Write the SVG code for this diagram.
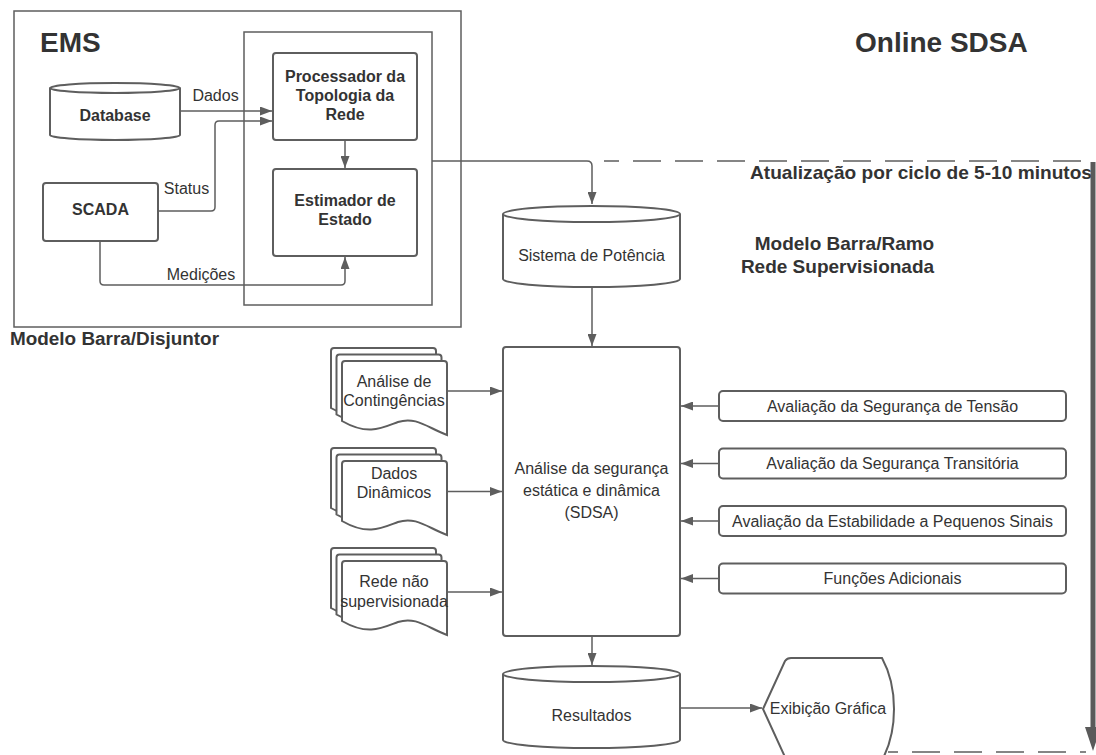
<svg xmlns="http://www.w3.org/2000/svg" xmlns:xlink="http://www.w3.org/1999/xlink" width="1096" height="755" viewBox="0 0 1096 755">
  <style>
    .node { fill: #ffffff; stroke: #5e5e5e; stroke-width: 2; }
    .frame { fill: none; stroke: #5e5e5e; stroke-width: 1.5; }
    .edge { fill: none; stroke: #5e5e5e; stroke-width: 1.5; }
    .dash { fill: none; stroke: #5e5e5e; stroke-width: 1.5; stroke-dasharray: 28 14; }
    .t { font-family: "Liberation Sans", Arial, sans-serif; font-size: 16px; fill: #333333; text-anchor: middle; }
    .b { font-weight: bold; }
    .title { font-family: "Liberation Sans", Arial, sans-serif; font-weight: bold; fill: #333333; }
  </style>
  <defs>
    <marker id="arrow" markerUnits="userSpaceOnUse" markerWidth="13" markerHeight="9" refX="12" refY="4.5" orient="auto">
      <path d="M0,0 L12,4.5 L0,9 Z" fill="#5e5e5e"/>
    </marker>
    <!-- one sheet of the stacked-document shape -->
    <path id="sheet" d="M342,364 Q342,361 345,361 H444 Q447,361 447,364 V435 C428,428 416,416 398,422 C382,428 368,436 342,421 Z"/>
    <g id="docstack">
      <use xlink:href="#sheet" class="node" transform="translate(-11,-13)"/>
      <use xlink:href="#sheet" class="node" transform="translate(-5.5,-6.5)"/>
      <use xlink:href="#sheet" class="node"/>
    </g>
  </defs>

  <!-- titles and free labels -->
  <text class="title" x="40" y="52" font-size="28">EMS</text>
  <text class="title" x="855" y="52" font-size="28">Online SDSA</text>
  <text class="title" x="10" y="345" font-size="18" textLength="209" lengthAdjust="spacingAndGlyphs">Modelo Barra/Disjuntor</text>
  <text class="title" x="1092" y="179" font-size="19" text-anchor="end" textLength="342" lengthAdjust="spacingAndGlyphs">Atualização por ciclo de 5-10 minutos</text>
  <text class="title" x="844.5" y="250" font-size="19" text-anchor="middle">Modelo Barra/Ramo</text>
  <text class="title" x="837.5" y="273" font-size="19" text-anchor="middle">Rede Supervisionada</text>

  <!-- EMS frames -->
  <g id="ems-frame">
    <rect class="frame" x="14" y="11" width="447" height="316"/>
    <rect class="frame" x="244" y="32" width="188" height="273"/>
  </g>

  <!-- update cycle -->
  <g id="cycle">
    <line class="dash" x1="604" y1="161" x2="1090" y2="161" stroke-dashoffset="13"/>
    <line class="dash" x1="888" y1="752" x2="1086" y2="752" stroke-dashoffset="18"/>
    <line x1="1093" y1="162" x2="1093" y2="730" stroke="#5a5a5a" stroke-width="5"/>
    <polygon points="1085,727 1101,727 1093,751" fill="#5a5a5a"/>
  </g>

  <!-- connectors -->
  <g id="connectors">
    <path class="edge" d="M180,111 H272" marker-end="url(#arrow)"/>
    <path class="edge" d="M158,211 H211 Q215,211 215,207 V125 Q215,121 219,121 H272" marker-end="url(#arrow)"/>
    <path class="edge" d="M345,140 V168" marker-end="url(#arrow)"/>
    <path class="edge" d="M100,241 V281 Q100,285 104,285 H341 Q345,285 345,281 V257" marker-end="url(#arrow)"/>
    <path class="edge" d="M432,161 H587 Q592,161 592,166 V204" marker-end="url(#arrow)"/>
    <path class="edge" d="M592,287 V346" marker-end="url(#arrow)"/>
    <path class="edge" d="M447,391 H502" marker-end="url(#arrow)"/>
    <path class="edge" d="M447,491.5 H502" marker-end="url(#arrow)"/>
    <path class="edge" d="M447,592 H502" marker-end="url(#arrow)"/>
    <path class="edge" d="M719,406 H681" marker-end="url(#arrow)"/>
    <path class="edge" d="M719,463.5 H681" marker-end="url(#arrow)"/>
    <path class="edge" d="M719,521 H681" marker-end="url(#arrow)"/>
    <path class="edge" d="M719,578.5 H681" marker-end="url(#arrow)"/>
    <path class="edge" d="M592,636 V665" marker-end="url(#arrow)"/>
    <path class="edge" d="M680,708 H762" marker-end="url(#arrow)"/>
    <text class="t" x="215.5" y="100.5">Dados</text>
    <text class="t" x="186.5" y="194">Status</text>
    <text class="t" x="201" y="280">Medições</text>
  </g>

  <!-- EMS nodes -->
  <g id="database">
    <path class="node" d="M50,88 A65,5 0 0 1 180,88 V135 A65,5 0 0 1 50,135 Z"/>
    <path class="node" fill="none" d="M50,88 A65,5 0 0 0 180,88"/>
    <text class="t b" x="115" y="121">Database</text>
  </g>
  <g id="scada">
    <rect class="node" x="43" y="183" width="115" height="58" rx="3"/>
    <text class="t b" x="100.5" y="215">SCADA</text>
  </g>
  <g id="processador">
    <rect class="node" x="273" y="53" width="144" height="87" rx="3"/>
    <text class="t b" x="345" y="82">Processador da</text>
    <text class="t b" x="345" y="101">Topologia da</text>
    <text class="t b" x="345" y="120">Rede</text>
  </g>
  <g id="estimador">
    <rect class="node" x="273" y="169" width="144" height="87" rx="3"/>
    <text class="t b" x="345" y="205.5">Estimador de</text>
    <text class="t b" x="345" y="224.5">Estado</text>
  </g>

  <!-- SDSA nodes -->
  <g id="sistema">
    <path class="node" d="M503,214 A88.5,8 0 0 1 680,214 V279 A88.5,8 0 0 1 503,279 Z"/>
    <path class="node" fill="none" d="M503,214 A88.5,8 0 0 0 680,214"/>
    <text class="t" x="591.5" y="261">Sistema de Potência</text>
  </g>
  <g id="sdsa">
    <rect class="node" x="503" y="347" width="177" height="289" rx="3"/>
    <text class="t" x="591.5" y="474">Análise da segurança</text>
    <text class="t" x="591.5" y="496">estática e dinâmica</text>
    <text class="t" x="591.5" y="518">(SDSA)</text>
  </g>
  <g id="doc-contingencias">
    <use xlink:href="#docstack"/>
    <text class="t" x="394" y="387">Análise de</text>
    <text class="t" x="394" y="406">Contingências</text>
  </g>
  <g id="doc-dinamicos">
    <use xlink:href="#docstack" transform="translate(0,100)"/>
    <text class="t" x="394" y="479">Dados</text>
    <text class="t" x="394" y="498">Dinâmicos</text>
  </g>
  <g id="doc-rede">
    <use xlink:href="#docstack" transform="translate(0,200)"/>
    <text class="t" x="394" y="587">Rede não</text>
    <text class="t" x="394" y="607">supervisionada</text>
  </g>
  <g id="tensao">
    <rect class="node" x="719" y="391" width="347" height="30" rx="4"/>
    <text class="t" x="892.5" y="411.5">Avaliação da Segurança de Tensão</text>
  </g>
  <g id="transitoria">
    <rect class="node" x="719" y="448.5" width="347" height="30" rx="4"/>
    <text class="t" x="892.5" y="469">Avaliação da Segurança Transitória</text>
  </g>
  <g id="pequenos-sinais">
    <rect class="node" x="719" y="506" width="347" height="30" rx="4"/>
    <text class="t" x="892.5" y="526.5">Avaliação da Estabilidade a Pequenos Sinais</text>
  </g>
  <g id="adicionais">
    <rect class="node" x="719" y="563.5" width="347" height="30" rx="4"/>
    <text class="t" x="892.5" y="584">Funções Adicionais</text>
  </g>
  <g id="resultados">
    <path class="node" d="M503,674 A88.5,8 0 0 1 680,674 V740 A88.5,8 0 0 1 503,740 Z"/>
    <path class="node" fill="none" d="M503,674 A88.5,8 0 0 0 680,674"/>
    <text class="t" x="591.5" y="721">Resultados</text>
  </g>
  <g id="exibicao">
    <path class="node" d="M763,709 L785,661 Q787,658 791,658 H882 Q894,680 894,709 Q894,738 882,760 H791 Q787,760 785,757 Z"/>
    <text class="t" x="828" y="714">Exibição Gráfica</text>
  </g>
</svg>
